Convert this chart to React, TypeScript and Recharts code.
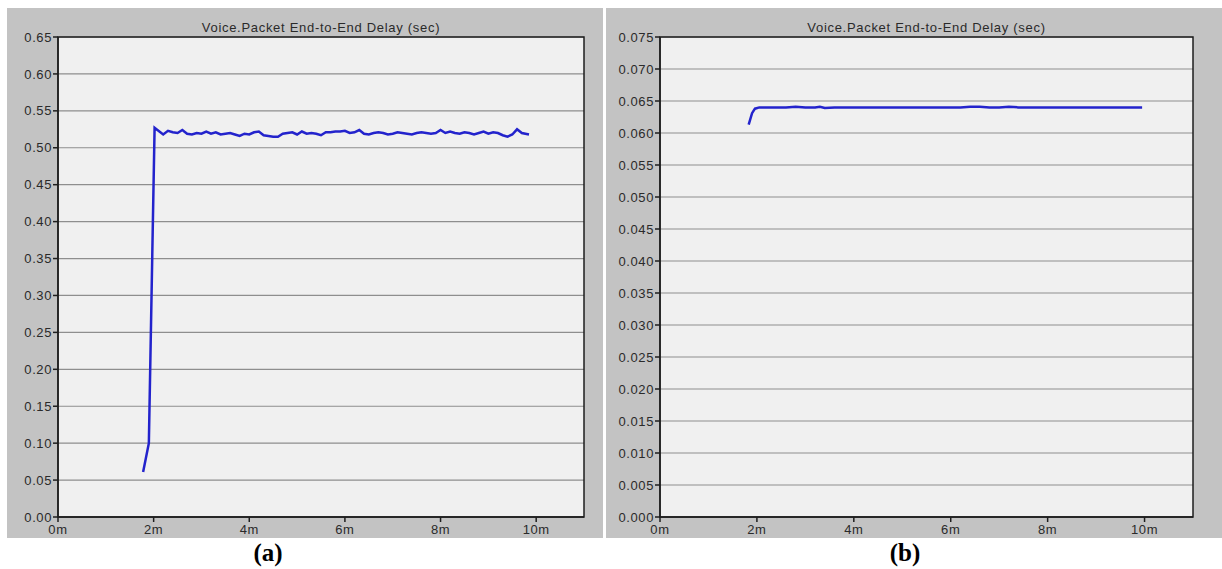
import React from "react";
import {
  LineChart,
  Line,
  XAxis,
  YAxis,
  CartesianGrid,
  ReferenceArea,
} from "recharts";

const TITLE = "Voice.Packet End-to-End Delay (sec)";
const X_TICKS = [0, 2, 4, 6, 8, 10];
const Y_TICKS_A = [0, 0.05, 0.1, 0.15, 0.2, 0.25, 0.3, 0.35, 0.4, 0.45, 0.5, 0.55, 0.6, 0.65];
const Y_TICKS_B = [0, 0.005, 0.01, 0.015, 0.02, 0.025, 0.03, 0.035, 0.04, 0.045, 0.05, 0.055, 0.06, 0.065, 0.07, 0.075];

const timeA = [
  1.78, 1.9, 2.02, 2.1, 2.2, 2.3, 2.4, 2.5, 2.6, 2.7, 2.8, 2.9, 3.0, 3.1, 3.2, 3.3, 3.4, 3.5, 3.6, 3.7, 3.8, 3.9,
  4.0, 4.1, 4.2, 4.3, 4.4, 4.5, 4.6, 4.7, 4.8, 4.9, 5.0, 5.1, 5.2, 5.3, 5.4, 5.5, 5.6, 5.7, 5.8, 5.9,
  6.0, 6.1, 6.2, 6.3, 6.4, 6.5, 6.6, 6.7, 6.8, 6.9, 7.0, 7.1, 7.2, 7.3, 7.4, 7.5, 7.6, 7.7, 7.8, 7.9,
  8.0, 8.1, 8.2, 8.3, 8.4, 8.5, 8.6, 8.7, 8.8, 8.9, 9.0, 9.1, 9.2, 9.3, 9.4, 9.5, 9.6, 9.7, 9.85,
];
const delayA = [
  0.061, 0.1, 0.527, 0.523, 0.518, 0.523, 0.521, 0.52, 0.524, 0.519, 0.518, 0.52, 0.519, 0.522, 0.519, 0.521, 0.518, 0.519, 0.52, 0.518, 0.516, 0.519,
  0.518, 0.521, 0.522, 0.517, 0.516, 0.515, 0.515, 0.519, 0.52, 0.521, 0.518, 0.522, 0.519, 0.52, 0.519, 0.517, 0.521, 0.521, 0.522, 0.522,
  0.523, 0.52, 0.521, 0.524, 0.519, 0.518, 0.52, 0.521, 0.52, 0.518, 0.519, 0.521, 0.52, 0.519, 0.518, 0.52, 0.521, 0.52, 0.519, 0.52,
  0.524, 0.52, 0.522, 0.52, 0.519, 0.521, 0.52, 0.518, 0.52, 0.522, 0.519, 0.521, 0.52, 0.517, 0.515, 0.518, 0.525, 0.52, 0.518,
];

const timeB = [
  1.83, 1.9, 1.96, 2.05, 2.2, 2.4, 2.6, 2.8, 3.0, 3.2, 3.3, 3.4, 3.6, 3.8, 4.0, 4.2, 4.4, 4.6, 4.8, 5.0, 5.2, 5.4,
  5.6, 5.8, 6.0, 6.2, 6.4, 6.6, 6.8, 7.0, 7.2, 7.4, 7.6, 7.8, 8.0, 8.2, 8.4, 8.6, 8.8, 9.0, 9.2, 9.4, 9.6, 9.8, 9.95,
];
const delayB = [
  0.0613, 0.0631, 0.0638, 0.064, 0.064, 0.064, 0.064, 0.0641, 0.064, 0.064, 0.0641, 0.0639, 0.064, 0.064, 0.064, 0.064, 0.064, 0.064, 0.064, 0.064, 0.064, 0.064,
  0.064, 0.064, 0.064, 0.064, 0.0641, 0.0641, 0.064, 0.064, 0.0641, 0.064, 0.064, 0.064, 0.064, 0.064, 0.064, 0.064, 0.064, 0.064, 0.064, 0.064, 0.064, 0.064, 0.064,
];

const dataA = timeA.map((t, i) => ({ t, v: delayA[i] }));
const dataB = timeB.map((t, i) => ({ t, v: delayB[i] }));

const FONT = "'Liberation Sans', Arial, sans-serif";
const tickStyle = { fontSize: 13, fill: "#2a2a2a", fontFamily: FONT, letterSpacing: 0.6 };

type PanelProps = {
  left: number;
  width: number;
  yWidth: number;
  rightMargin: number;
  data: { t: number; v: number }[];
  yTicks: number[];
  yMax: number;
  digits: number;
};

function Panel({ left, width, yWidth, rightMargin, data, yTicks, yMax, digits }: PanelProps) {
  const height = 530;
  const plotLeft = yWidth;
  const plotRight = width - rightMargin;
  return (
    <div style={{ position: "absolute", left, top: 8, width, height, background: "#c3c3c3" }}>
      <div
        style={{
          position: "absolute",
          left: plotLeft,
          width: plotRight - plotLeft,
          top: 12,
          textAlign: "center",
          fontFamily: FONT,
          fontSize: 13,
          letterSpacing: 0.7,
          color: "#2a2a2a",
          lineHeight: "16px",
        }}
      >
        {TITLE}
      </div>
      <LineChart
        width={width}
        height={height}
        data={data}
        margin={{ top: 29, right: rightMargin, bottom: 0, left: 0 }}
        style={{ position: "absolute", left: 0, top: 0 }}
      >
        <CartesianGrid
          vertical={false}
          horizontal={true}
          stroke="#8e8e8e"
          strokeWidth={1.2}
          fill="#f0f0f0"
          fillOpacity={1}
          horizontalValues={yTicks}
        />
        <XAxis
          dataKey="t"
          type="number"
          domain={[0, 11]}
          ticks={X_TICKS}
          tickFormatter={(v: number) => `${v}m`}
          height={21}
          tickSize={5}
          tickMargin={3}
          stroke="#1e1e1e"
          strokeWidth={1.5}
          tick={tickStyle}
          interval={0}
          allowDataOverflow
        />
        <YAxis
          type="number"
          domain={[0, yMax]}
          ticks={yTicks}
          tickFormatter={(v: number) => v.toFixed(digits)}
          width={yWidth}
          tickSize={5}
          tickMargin={1}
          stroke="#1e1e1e"
          strokeWidth={1.5}
          tick={tickStyle}
          interval={0}
          allowDataOverflow
        />
        <ReferenceArea
          x1={0}
          x2={11}
          y1={0}
          y2={yMax}
          fill="none"
          stroke="#1e1e1e"
          strokeWidth={1.5}
          ifOverflow="visible"
        />
        <Line
          type="linear"
          dataKey="v"
          stroke="#2323cc"
          strokeWidth={2.5}
          dot={false}
          isAnimationActive={false}
        />
      </LineChart>
    </div>
  );
}

export default function App() {
  return (
    <div style={{ position: "absolute", left: 0, top: 0, width: 1222, height: 569, overflow: "hidden", background: "#fff" }}>
      <Panel left={7} width={596} yWidth={51} rightMargin={19} data={dataA} yTicks={Y_TICKS_A} yMax={0.65} digits={2} />
      <Panel left={606} width={616} yWidth={54} rightMargin={29} data={dataB} yTicks={Y_TICKS_B} yMax={0.075} digits={3} />
      <div
        style={{
          position: "absolute",
          left: 218,
          width: 100,
          top: 538,
          textAlign: "center",
          fontFamily: "'Liberation Serif', 'Times New Roman', serif",
          fontWeight: "bold",
          fontSize: 25,
          lineHeight: "30px",
          color: "#000",
        }}
      >
        (a)
      </div>
      <div
        style={{
          position: "absolute",
          left: 855,
          width: 100,
          top: 538,
          textAlign: "center",
          fontFamily: "'Liberation Serif', 'Times New Roman', serif",
          fontWeight: "bold",
          fontSize: 25,
          lineHeight: "30px",
          color: "#000",
        }}
      >
        (b)
      </div>
    </div>
  );
}
